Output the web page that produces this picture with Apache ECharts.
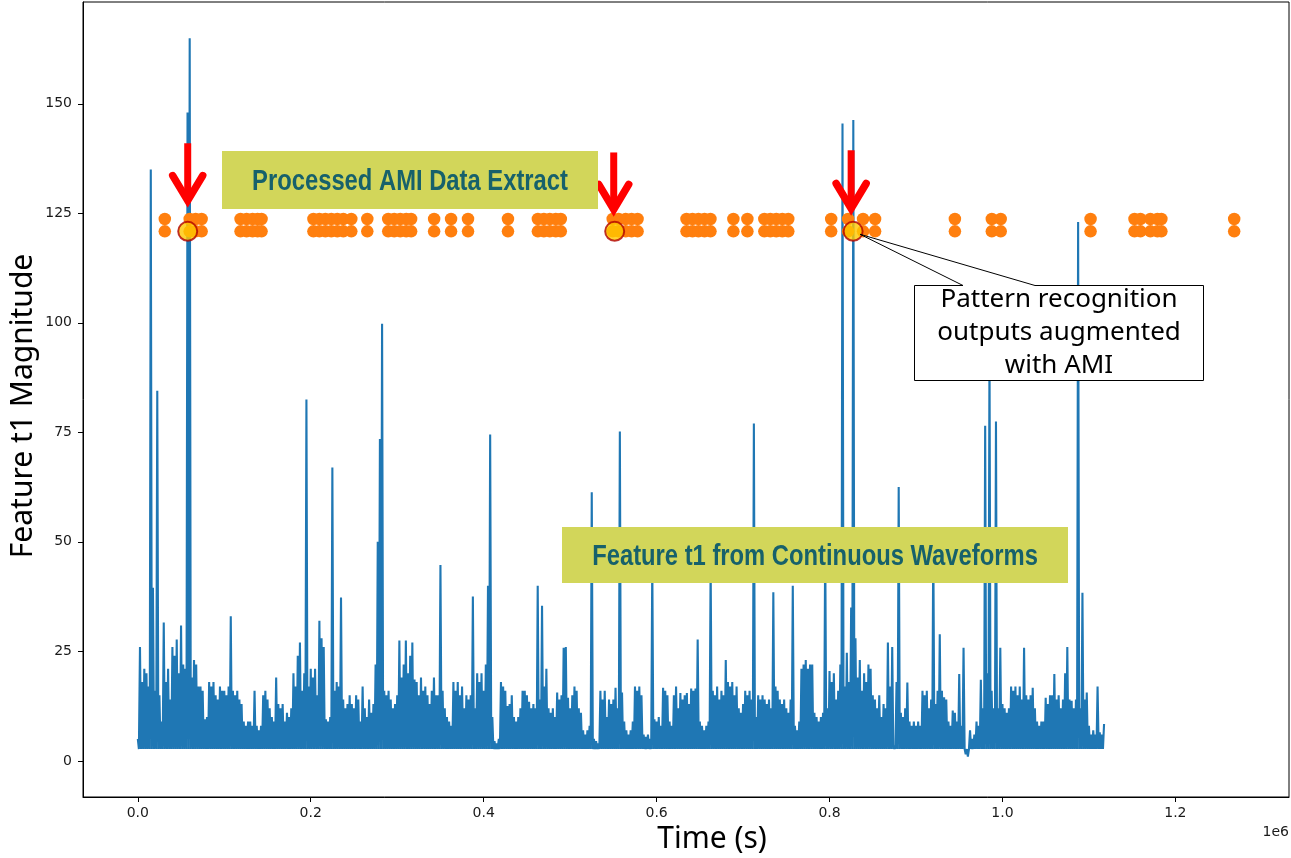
<!DOCTYPE html>
<html>
<head>
<meta charset="utf-8">
<script src="https://cdn.jsdelivr.net/npm/echarts@6/dist/echarts.min.js"></script>
<style>
  html, body { margin: 0; padding: 0; background: #ffffff; }
  #chart { width: 1291px; height: 858px; }
</style>
</head>
<body>
<div id="chart"></div>
<script>
// Continuous-waveform feature t1: one local peak per sampling bin, line falls back to the floor between peaks
const SAMPLE_STEP = 2500;
const FLOOR_LEVEL = 2.7;
const t1Peaks = [
  5, 26, 18, 21, 20, 17, 135, 39.5, 16, 84.5, 15, 9, 31.6, 18, 21, 14, 26, 24, 27.7, 20,
  30.9, 22, 21, 148, 165, 19, 23, 22, 17, 17, 16, 9.5, 10, 18, 17, 18, 15, 14, 17, 16,
  16, 15, 17, 33, 16, 15, 16, 14, 13, 9, 8, 9, 9, 8, 16, 8, 7, 8, 15, 16,
  14, 12, 10, 9, 19, 13, 12, 13, 9, 11, 10, 12, 20, 17, 24, 27, 16, 20, 82.5, 17,
  21, 19, 21, 15, 32, 28, 26, 9.5, 9, 10, 67, 16, 18, 17, 37.3, 14, 12, 13, 15, 13,
  12, 15, 14, 9, 17, 12, 10, 14, 11, 13, 22, 50, 73.5, 99.8, 16, 15, 16, 14, 12, 13,
  15, 27.5, 19, 22, 27.5, 20, 24, 27, 18.6, 18, 15, 19, 16, 17, 15, 13, 16, 19, 15, 15,
  44.7, 16, 12, 10, 9, 8, 18, 16, 18, 15, 17, 12, 15, 14, 15, 37.5, 12, 20, 18, 20,
  16, 22, 40, 74.5, 10, 4.5, 4, 5, 18, 17, 16, 12.5, 13, 15, 10, 9, 10, 12, 16, 16,
  15, 13.5, 12, 13, 12, 40, 14, 35.4, 17, 21, 12, 11, 12, 10, 15.6, 14, 15, 25.8, 26, 14.4,
  12, 15, 17, 16, 12, 11, 7, 6, 7, 8, 61.3, 5, 4.5, 4, 16, 14, 16, 10, 14, 13,
  14, 16.7, 12, 75.2, 15.6, 9, 7, 6, 7, 9, 17, 16, 17, 15, 6, 5.5, 6, 5, 45, 9.5,
  9, 10, 8, 16.7, 16, 15, 9, 8, 15, 17, 12, 15.5, 14, 15, 15.5, 13, 16.5, 16, 16.5, 27.7,
  9, 8, 7, 8, 9, 45, 16, 15, 17, 14, 16, 15, 23, 18, 17, 18, 15, 17, 12, 11,
  13, 16, 15, 16, 14, 77, 10, 15, 14, 15, 14, 13, 14, 12, 38.5, 17, 16, 14, 13, 14,
  12, 11, 14, 40, 8, 7, 9, 21, 22, 23, 21, 22, 22, 11, 10, 9, 10, 11, 50, 12,
  20.5, 18, 20, 14, 16, 22, 145.5, 17, 24.7, 18, 35, 146.3, 28, 19, 23, 16, 20, 18, 22, 21,
  15, 14, 12, 15, 10, 13, 12, 27, 17, 26, 3.5, 18, 62.5, 11, 10, 12, 17.9, 9, 8, 9,
  8, 9, 8, 16, 15, 16, 12, 14, 50.5, 13, 16, 28.9, 16, 14.5, 14, 9, 8, 11.5, 11, 9,
  19.8, 8, 25.8, 1.5, 1, 7, 5, 6, 9, 8, 18.5, 12, 76.5, 20, 95, 16, 12, 77.5, 12, 25.8,
  13, 12, 11, 12, 17, 16, 17, 15, 17, 14, 25.8, 15, 14, 15, 16.7, 12, 9, 8, 9, 9,
  14.4, 13, 15, 15, 19.8, 14, 15, 12, 14, 20, 26, 14, 13.7, 12, 14, 123, 12, 38.4, 14, 15.6,
  8, 6, 7, 6, 17, 6.5, 6, 8.4
];

// Processed AMI events (time), each plotted on both AMI rows
const amiTimes = [
  31200, 60000, 66900, 73800,
  118800, 125800, 132700, 138500, 143100,
  203100, 210000, 216900, 223800, 230700, 237700, 246900, 265400,
  289600, 296500, 303500, 310400, 316100,
  342700, 362300, 381900, 428100,
  462700, 469600, 476500, 483400, 489200,
  549200, 556100, 564200, 571100, 578000,
  634600, 641500, 648400, 655400, 662300,
  688800, 705000,
  724600, 731500, 738400, 745400, 752300,
  801900, 821500, 838800, 852700,
  945000, 987700, 998000, 1101900,
  1152700, 1159600, 1171100, 1179200, 1183800,
  1268000
];
const amiRows = [123.7, 120.9];

// AMI events matched by pattern recognition
const matchedTimes = [57700, 551500, 827300];

// Pointer arrows: [time, top value, tip value]
const pointerArrows = [
  [57700, 141.0, 127.0],
  [550400, 138.9, 125.0],
  [825000, 139.4, 125.2]
];

const xTickValues = [0, 200000, 400000, 600000, 800000, 1000000, 1200000];
const yTickValues = [0, 25, 50, 75, 100, 125, 150];
const xRange = [-63400, 1331400];
const yRange = [-8.25, 173.25];

const t1Line = [];
t1Peaks.forEach((v, i) => {
  const t = i * SAMPLE_STEP;
  if (i > 0) t1Line.push([t - SAMPLE_STEP / 2, FLOOR_LEVEL]);
  t1Line.push([t, v]);
});

const amiPoints = [];
amiTimes.forEach(t => amiRows.forEach(r => amiPoints.push([t, r])));
const matchedPoints = matchedTimes.map(t => [t, amiRows[1]]);

const chart = echarts.init(document.getElementById('chart'), null, { renderer: 'canvas' });

const tickFont = { fontFamily: 'DejaVu Sans', fontSize: 14, color: '#1a1a1a' };
const calloutFont = '"Noto Sans", "Open Sans", sans-serif';
const boxFont = '"Liberation Sans", Arial, sans-serif';

const option = {
  backgroundColor: '#ffffff',
  animation: false,
  grid: {
    left: 83, right: 2, top: 2, bottom: 61,
    show: true, borderColor: '#000000', borderWidth: 1, backgroundColor: 'transparent'
  },
  xAxis: {
    type: 'value', min: xRange[0], max: xRange[1],
    axisLine: { show: true, onZero: false, lineStyle: { color: '#000', width: 1 } },
    axisTick: { show: true, length: 5, customValues: xTickValues, lineStyle: { color: '#000' } },
    axisLabel: { customValues: xTickValues, margin: 9, ...tickFont,
      formatter: v => (v / 1e6).toFixed(1) },
    splitLine: { show: false }
  },
  yAxis: {
    type: 'value', min: yRange[0], max: yRange[1],
    axisLine: { show: true, onZero: false, lineStyle: { color: '#000', width: 1 } },
    axisTick: { show: true, length: 5, customValues: yTickValues, lineStyle: { color: '#000' } },
    axisLabel: { customValues: yTickValues, margin: 11, ...tickFont },
    splitLine: { show: false }
  },
  series: [
    {
      name: 'Feature t1', type: 'line', data: t1Line, showSymbol: false, symbol: 'none',
      lineStyle: { color: '#1f77b4', width: 2.1 }, z: 2, silent: true
    },
    {
      name: 'AMI', type: 'scatter', data: amiPoints, symbolSize: 12.5,
      itemStyle: { color: '#ff7f0e', opacity: 1 }, z: 3, silent: true
    },
    {
      name: 'Matched', type: 'scatter', data: matchedPoints, symbolSize: 19,
      itemStyle: { color: '#ffc800', borderColor: '#b00000', borderWidth: 2 }, z: 4, silent: true
    },
    {
      name: 'Pointers', type: 'custom', data: pointerArrows, z: 5, silent: true, clip: false,
      encode: { x: 0, y: [1, 2] },
      renderItem(params, api) {
        const top = api.coord([api.value(0), api.value(1)]);
        const tip = api.coord([api.value(0), api.value(2)]);
        const red = '#ff0000';
        return {
          type: 'group',
          children: [
            { type: 'polyline', shape: { points: [top, [tip[0], tip[1] - 6]] },
              style: { stroke: red, lineWidth: 7, lineCap: 'butt', fill: 'none' } },
            { type: 'polyline',
              shape: { points: [[tip[0] - 15, tip[1] - 29], [tip[0], tip[1] - 4], [tip[0] + 15, tip[1] - 29]] },
              style: { stroke: red, lineWidth: 7.5, lineCap: 'round', lineJoin: 'miter', miterLimit: 10, fill: 'none' } }
          ]
        };
      }
    }
  ]
};

chart.setOption(option);

// Annotations placed on top of the plot
const calloutTip = chart.convertToPixel({ gridIndex: 0 }, matchedPoints[2]);
const tipX = calloutTip[0] + 7, tipY = calloutTip[1] + 3;

function bannerText(x, y, text) {
  return { type: 'text', z: 101, x: x, y: y, scaleX: 0.82,
    style: { text: text, fill: '#17616b', font: 'bold 29px ' + boxFont,
      textAlign: 'center', textVerticalAlign: 'middle' } };
}
function calloutLine(y, text) {
  return { type: 'text', z: 101, x: 1059, y: y,
    style: { text: text, fill: '#000', font: '26px ' + calloutFont, textAlign: 'center', textVerticalAlign: 'middle' } };
}

chart.setOption({
  graphic: [
    { type: 'rect', z: 100, shape: { x: 222, y: 151, width: 376, height: 58 }, style: { fill: '#d2d65a' } },
    bannerText(410, 182, 'Processed AMI Data Extract'),
    { type: 'rect', z: 100, shape: { x: 562, y: 527, width: 506, height: 56 }, style: { fill: '#d2d65a' } },
    bannerText(815, 557, 'Feature t1 from Continuous Waveforms'),
    { type: 'polygon', z: 100,
      shape: { points: [[914.5, 285.5], [963, 285.5], [tipX, tipY], [1035, 285.5], [1203.5, 285.5], [1203.5, 380.5], [914.5, 380.5]] },
      style: { fill: '#ffffff', stroke: '#000000', lineWidth: 1 } },
    calloutLine(300, 'Pattern recognition'),
    calloutLine(333, 'outputs augmented'),
    calloutLine(366, 'with AMI'),
    { type: 'text', z: 101, x: 23, y: 406, rotation: Math.PI / 2,
      style: { text: 'Feature t1 Magnitude', fill: '#000', font: '30px ' + calloutFont, textAlign: 'center', textVerticalAlign: 'middle' } },
    { type: 'text', z: 101, x: 712, y: 839,
      style: { text: 'Time (s)', fill: '#000', font: '30px ' + calloutFont, textAlign: 'center', textVerticalAlign: 'middle' } },
    { type: 'text', z: 101, x: 1289, y: 832,
      style: { text: '1e6', fill: '#1a1a1a', font: '14px "DejaVu Sans"', textAlign: 'right', textVerticalAlign: 'middle' } }
  ]
});
</script>
</body>
</html>
